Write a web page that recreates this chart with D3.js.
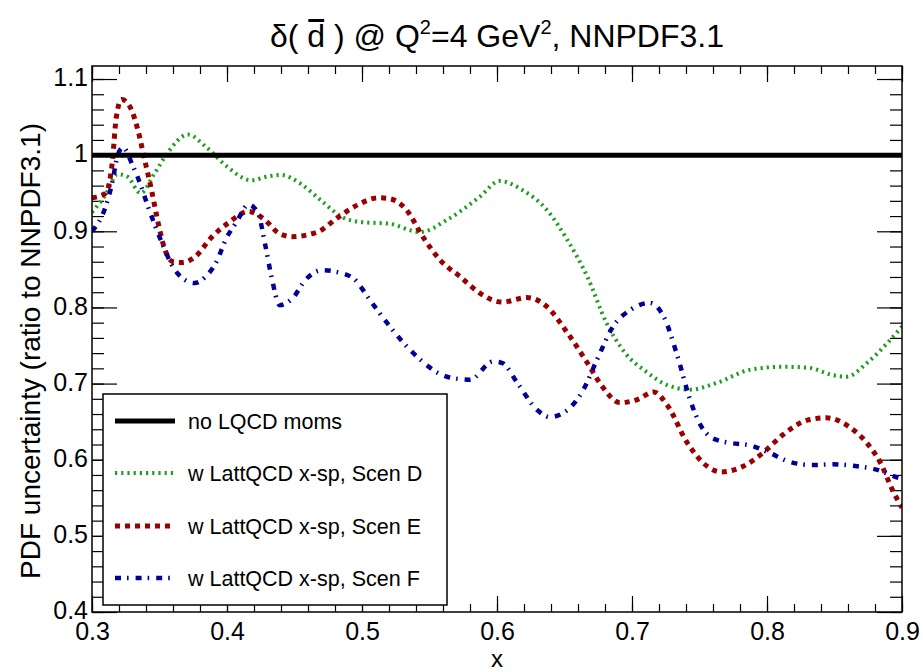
<!DOCTYPE html>
<html><head><meta charset="utf-8">
<script src="https://cdn.jsdelivr.net/npm/d3@7"></script>
<style>
body{margin:0;background:#fff;}
text{font-family:"Liberation Sans",Arial,Helvetica,sans-serif;fill:#000;}
</style></head>
<body><svg id="c" width="923" height="672"></svg>
<script>
// ---- data ----
const xTicks = [0.3,0.4,0.5,0.6,0.7,0.8,0.9];
const xTickLabels = ["0.3","0.4","0.5","0.6","0.7","0.8","0.9"];
const yTicks = [0.4,0.5,0.6,0.7,0.8,0.9,1.0,1.1];
const yTickLabels = ["0.4","0.5","0.6","0.7","0.8","0.9","1","1.1"];

const seriesNames = ["no LQCD moms","w LattQCD x-sp, Scen D","w LattQCD x-sp, Scen E","w LattQCD x-sp, Scen F"];

const xBase = [0.3, 0.9];
const vBase = [1.0, 1.0];

const xD = [0.300,0.310,0.319,0.326,0.336,0.346,0.356,0.371,0.385,0.400,0.418,0.430,0.440,0.455,0.470,0.486,0.500,0.520,0.543,0.563,0.587,0.602,0.619,0.637,0.652,0.667,0.681,0.695,0.711,0.726,0.743,0.763,0.787,0.812,0.830,0.849,0.859,0.874,0.889,0.900];
const vD = [0.925,0.948,0.975,0.972,0.950,0.975,1.003,1.027,1.010,0.985,0.967,0.972,0.974,0.962,0.940,0.918,0.912,0.910,0.899,0.915,0.945,0.966,0.954,0.928,0.889,0.840,0.780,0.740,0.715,0.698,0.692,0.701,0.718,0.722,0.721,0.711,0.709,0.727,0.753,0.775];

const xE = [0.300,0.310,0.315,0.318,0.322,0.328,0.334,0.339,0.344,0.349,0.354,0.360,0.367,0.376,0.389,0.401,0.416,0.428,0.438,0.448,0.467,0.482,0.497,0.512,0.520,0.533,0.545,0.558,0.573,0.587,0.604,0.622,0.637,0.652,0.667,0.678,0.691,0.704,0.716,0.726,0.741,0.756,0.766,0.782,0.797,0.812,0.830,0.844,0.861,0.874,0.884,0.893,0.900];
const vE = [0.944,0.950,0.990,1.050,1.073,1.064,1.033,0.994,0.955,0.911,0.876,0.860,0.859,0.866,0.893,0.911,0.926,0.915,0.898,0.893,0.899,0.918,0.935,0.944,0.943,0.928,0.893,0.862,0.840,0.819,0.807,0.813,0.801,0.767,0.727,0.696,0.675,0.679,0.689,0.672,0.622,0.591,0.584,0.591,0.609,0.633,0.652,0.655,0.643,0.622,0.596,0.560,0.537];

const xF = [0.300,0.310,0.315,0.319,0.323,0.330,0.336,0.341,0.347,0.353,0.359,0.369,0.376,0.384,0.393,0.399,0.407,0.416,0.423,0.428,0.433,0.439,0.449,0.458,0.471,0.480,0.493,0.507,0.518,0.538,0.563,0.580,0.597,0.604,0.615,0.630,0.639,0.652,0.664,0.674,0.686,0.699,0.713,0.724,0.734,0.743,0.750,0.760,0.773,0.787,0.802,0.817,0.834,0.849,0.864,0.881,0.896,0.900];
const vF = [0.900,0.932,0.964,1.000,1.010,0.987,0.961,0.935,0.906,0.880,0.856,0.836,0.832,0.840,0.863,0.889,0.912,0.935,0.924,0.885,0.840,0.803,0.813,0.836,0.849,0.847,0.839,0.807,0.781,0.740,0.709,0.705,0.729,0.727,0.701,0.665,0.656,0.665,0.692,0.731,0.775,0.797,0.806,0.786,0.734,0.679,0.648,0.628,0.622,0.619,0.609,0.597,0.593,0.594,0.592,0.587,0.577,0.575];

// ---- layout ----
const L = 92, R = 902, T = 66, B = 612;
const svg = d3.select("#c");
const x = d3.scaleLinear().domain([0.3, 0.9]).range([L, R]);
const y = d3.scaleLinear().domain([0.4, 1.1171]).range([B, T]);

const styles = [
  {color:"#000000", width:5,   dash:null},
  {color:"#1f9e1f", width:4,   dash:"2.2,4"},
  {color:"#990000", width:5,   dash:"5,5"},
  {color:"#000099", width:4.5, dash:"6,6,1.6,7"}
];
const series = [
  d3.zip(xBase, vBase), d3.zip(xD, vD), d3.zip(xE, vE), d3.zip(xF, vF)
];

// axes (inward ticks)
const xMinor = d3.range(0, 31).map(i => 0.3 + i*0.02);
const yMinor = d3.range(0, 36).map(i => 0.4 + i*0.02);
function clean(g){ g.select(".domain").remove(); g.selectAll(".tick line").attr("stroke","#000").attr("stroke-width",1.2); }

svg.append("g").attr("transform",`translate(0,${B})`)
  .call(d3.axisBottom(x).tickValues(xMinor).tickSize(-8).tickSizeOuter(0).tickFormat("")).call(clean);
svg.append("g").attr("transform",`translate(0,${T})`)
  .call(d3.axisTop(x).tickValues(xMinor).tickSize(-8).tickSizeOuter(0).tickFormat("")).call(clean);
svg.append("g").attr("transform",`translate(0,${T})`)
  .call(d3.axisTop(x).tickValues(xTicks).tickSize(-16).tickSizeOuter(0).tickFormat("")).call(clean);
const xAx = svg.append("g").attr("transform",`translate(0,${B})`)
  .call(d3.axisBottom(x).tickValues(xTicks).tickSize(-16).tickSizeOuter(0).tickPadding(10)
    .tickFormat((d,i)=>xTickLabels[i])).call(clean);
xAx.selectAll("text").attr("font-size",25).attr("dy","0.72em").attr("font-family","Liberation Sans, Arial, sans-serif");

svg.append("g").attr("transform",`translate(${L},0)`)
  .call(d3.axisLeft(y).tickValues(yMinor).tickSize(-12).tickSizeOuter(0).tickFormat("")).call(clean);
svg.append("g").attr("transform",`translate(${R},0)`)
  .call(d3.axisRight(y).tickValues(yMinor).tickSize(-12).tickSizeOuter(0).tickFormat("")).call(clean);
svg.append("g").attr("transform",`translate(${R},0)`)
  .call(d3.axisRight(y).tickValues(yTicks).tickSize(-25).tickSizeOuter(0).tickFormat("")).call(clean);
const yAx = svg.append("g").attr("transform",`translate(${L},0)`)
  .call(d3.axisLeft(y).tickValues(yTicks).tickSize(-25).tickSizeOuter(0).tickPadding(4)
    .tickFormat((d,i)=>yTickLabels[i])).call(clean);
yAx.selectAll("text").attr("font-size",25).attr("dy","0.27em").attr("font-family","Liberation Sans, Arial, sans-serif");

// clip
svg.append("clipPath").attr("id","clip").append("rect")
  .attr("x",L).attr("y",T).attr("width",R-L).attr("height",B-T);

const line = d3.line().x(d=>x(d[0])).y(d=>y(d[1])).curve(d3.curveMonotoneX);
const gl = svg.append("g").attr("clip-path","url(#clip)");
[1,2,3,0].forEach(i=>{
  gl.append("path").attr("d", line(series[i])).attr("fill","none")
    .attr("stroke",styles[i].color).attr("stroke-width",styles[i].width)
    .attr("stroke-dasharray",styles[i].dash);
});

// frame
svg.append("rect").attr("x",L).attr("y",T).attr("width",R-L).attr("height",B-T)
  .attr("fill","none").attr("stroke","#000").attr("stroke-width",1.5);

// legend
const lg = svg.append("g");
lg.append("rect").attr("x",103).attr("y",394).attr("width",344).attr("height",211)
  .attr("fill","#fff").attr("stroke","#000").attr("stroke-width",1.5);
const rowY = [421, 473, 526, 578];
seriesNames.forEach((n,i)=>{
  lg.append("line").attr("x1",115).attr("x2",175).attr("y1",rowY[i]).attr("y2",rowY[i])
    .attr("stroke",styles[i].color).attr("stroke-width",styles[i].width)
    .attr("stroke-dasharray",styles[i].dash);
  lg.append("text").attr("x",188).attr("y",rowY[i]).attr("dy","0.36em")
    .attr("font-size",21.5).text(n);
});

// title
const title = svg.append("text").attr("x",(L+R)/2).attr("y",47)
  .attr("text-anchor","middle").attr("font-size",32);
title.append("tspan").text("δ( ");
title.append("tspan").text("d");
title.append("tspan").text(" ) @ Q");
title.append("tspan").attr("font-size",20).attr("dy",-13).text("2");
title.append("tspan").attr("dy",13).text("=4 GeV");
title.append("tspan").attr("font-size",20).attr("dy",-13).text("2");
title.append("tspan").attr("dy",13).text(", NNPDF3.1");
const ext = title.node().getExtentOfChar(3);
svg.append("rect").attr("x",ext.x+1).attr("y",ext.y+1).attr("width",ext.width-2).attr("height",3).attr("fill","#000");

// axis titles
svg.append("text").attr("x",(L+R)/2).attr("y",667).attr("text-anchor","middle")
  .attr("font-size",24).text("x");
svg.append("text").attr("transform",`translate(40,${(T+B)/2+12}) rotate(-90)`)
  .attr("text-anchor","middle").attr("font-size",28).text("PDF uncertainty (ratio to NNPDF3.1)");
</script></body></html>
